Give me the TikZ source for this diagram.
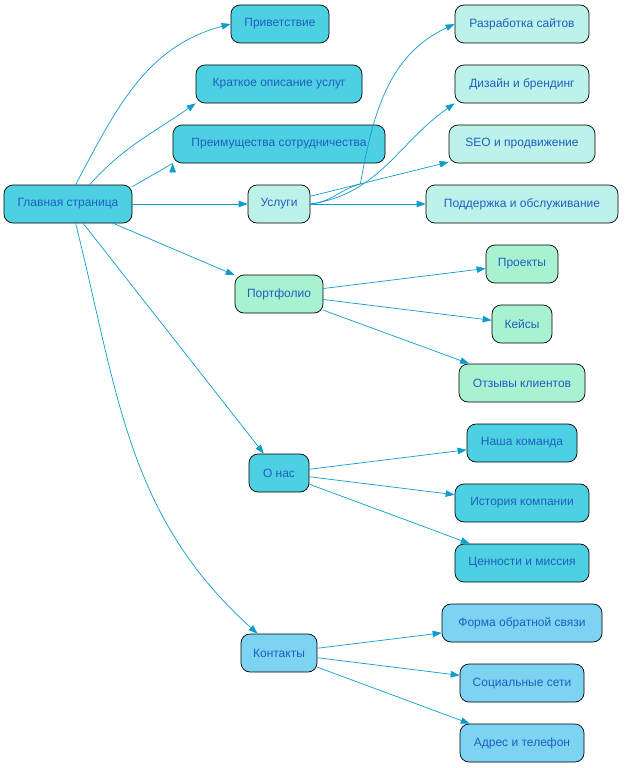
\documentclass[tikz,border=0pt]{standalone}
\usepackage{fontspec}
\setmainfont{Liberation Sans}
\usetikzlibrary{arrows.meta}
\definecolor{txt}{HTML}{1F5FC0}
\definecolor{edge}{HTML}{0E9CCC}
\definecolor{cmain}{HTML}{4DD0E1}
\definecolor{csrv}{HTML}{BDF2EA}
\definecolor{cport}{HTML}{A8F2D2}
\definecolor{ccont}{HTML}{7DD3F2}
\begin{document}
\begin{tikzpicture}[x=1pt,y=-1pt,
 n/.style={draw=black,line width=0.7pt,rounded corners=9pt,minimum height=38pt,inner sep=0pt,text=txt,font=\fontsize{12}{14}\selectfont,fill=#1},
 n/.default=cmain,
 e/.style={draw=edge,line width=0.7pt,-{Triangle[length=9pt,width=6.5pt]}}]
\useasboundingbox (0,0) rectangle (624,768);
\node[n,minimum width=128pt] (m) at (68,204) {Главная страница};
\node[n,minimum width=98pt] (a1) at (280,24) {Приветствие};
\node[n,minimum width=166pt] (a2) at (279,84) {Краткое описание услуг};
\node[n,minimum width=212pt] (a3) at (279,144) {Преимущества сотрудничества};
\node[n=csrv,minimum width=62pt] (s) at (279,204) {Услуги};
\node[n=cport,minimum width=88pt] (p) at (279,294) {Портфолио};
\node[n,minimum width=60pt] (o) at (279,473) {О нас};
\node[n=ccont,minimum width=76pt] (k) at (279,653) {Контакты};
\node[n=csrv,minimum width=134pt] (s1) at (522,24) {Разработка сайтов};
\node[n=csrv,minimum width=134pt] (s2) at (522,84) {Дизайн и брендинг};
\node[n=csrv,minimum width=146pt] (s3) at (522,144) {SEO и продвижение};
\node[n=csrv,minimum width=192pt] (s4) at (522,204) {Поддержка и обслуживание};
\node[n=cport,minimum width=72pt] (p1) at (522,264) {Проекты};
\node[n=cport,minimum width=60pt] (p2) at (522,324) {Кейсы};
\node[n=cport,minimum width=126pt] (p3) at (522,383) {Отзывы клиентов};
\node[n,minimum width=110pt] (o1) at (522,443) {Наша команда};
\node[n,minimum width=134pt] (o2) at (522,503) {История компании};
\node[n,minimum width=134pt] (o3) at (522,563) {Ценности и миссия};
\node[n=ccont,minimum width=160pt] (k1) at (522,623) {Форма обратной связи};
\node[n=ccont,minimum width=124pt] (k2) at (522,683) {Социальные сети};
\node[n=ccont,minimum width=124pt] (k3) at (522,743) {Адрес и телефон};
\draw[e] (m.north west)++(72,0) to[out=62,in=195] (a1.west);
\draw[e] (m.north west)++(86,0) to[out=48,in=215] (a2.south west);
\draw[e] (m.north east)++(0,2) -- (a3.south west)++(0,0);
\draw[e] (m) -- (s);
\draw[e] (m) -- (p);
\draw[e] (m) -- (o);
\draw[e] (m.south west)++(72,0) to[out=-76,in=138] (k);
\draw[e] (s.east) to[out=5,in=195] ++(50,-20) to[out=15,in=0] ++(0,0) to[out=80,in=205] (s1.west);
\draw[e] (s.east) to[out=8,in=215] (s2.south west);
\draw[e] (s) -- (s3);
\draw[e] (s) -- (s4);
\draw[e] (p) -- (p1);
\draw[e] (p) -- (p2);
\draw[e] (p) -- (p3);
\draw[e] (o) -- (o1);
\draw[e] (o) -- (o2);
\draw[e] (o) -- (o3);
\draw[e] (k) -- (k1);
\draw[e] (k) -- (k2);
\draw[e] (k) -- (k3);
\end{tikzpicture}
\end{document}
